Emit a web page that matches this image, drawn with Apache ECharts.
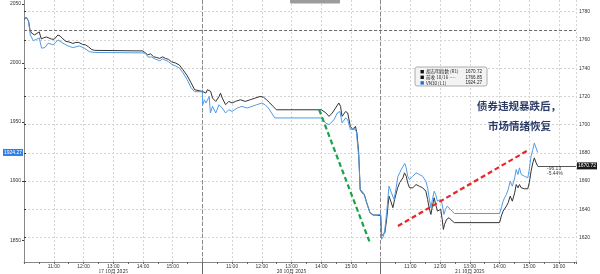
<!DOCTYPE html>
<html><head><meta charset="utf-8">
<script src="https://cdn.jsdelivr.net/npm/echarts@6/dist/echarts.min.js"></script>
<style>html,body{margin:0;padding:0;background:#fff}#c{width:600px;height:274px}</style>
</head><body><div id="c"></div>
<script>
// x = trading-session hours from 17 Oct 10:00 (HKT); each day spans 6 units (10:00-16:00)
const hourTicks = [1,2,3,4,5,7,8,9,10,11,13,14,15,16,17,18];
const hourTickLabels = ['11:00','12:00','13:00','14:00','15:00','11:00','12:00','13:00','14:00','15:00','11:00','12:00','13:00','14:00','15:00','16:00'];
const dayCenters = [3,9,15];
const dayLabels = ['17 10月 2025','20 10月 2025','21 10月 2025'];
const dayBreaks = [6,12];
const leftTicks = [1850,1900,1950,2000,2050];
const rightTicks = [1620,1640,1660,1680,1700,1720,1740,1760,1780];

const vniData = [
[0.00,1774.8],[0.02,1775.5],[0.08,1775.9],[0.15,1773.4],[0.20,1767.1],[0.25,1764.9],[0.35,1763.5],[0.41,1764.2],[0.51,1765.7],[0.58,1760.7],[0.65,1761.4],[0.75,1762.1],[0.81,1761.8],[0.91,1760.7],[1.01,1760.4],[1.14,1763.5],[1.21,1762.8],[1.31,1760.7],[1.41,1758.9],[1.51,1758.6],[1.64,1757.5],[1.74,1758.2],[1.84,1758.2],[1.97,1756.8],[2.07,1756.5],[2.17,1755.1],[2.27,1753.3],[2.37,1752.6],[4.00,1752.2],[4.06,1751.2],[4.16,1749.4],[4.26,1750.1],[4.36,1748.0],[4.46,1747.6],[4.56,1746.9],[4.66,1748.0],[4.76,1746.9],[4.86,1746.2],[4.96,1744.5],[5.09,1743.7],[5.22,1742.3],[5.35,1738.8],[5.49,1734.6],[5.62,1729.6],[5.74,1724.7],
[6.00,1723.5],[6.12,1722.3],[6.17,1724.7],[6.28,1723.5],[6.34,1718.8],[6.39,1719.9],[6.45,1716.4],[6.56,1719.9],[6.61,1722.3],[6.67,1718.8],[6.78,1714.1],[6.89,1716.4],[7.00,1715.3],[7.11,1716.4],[7.28,1717.6],[7.44,1716.4],[7.61,1717.6],[7.78,1718.8],[7.94,1719.9],[8.05,1719.5],[8.16,1717.6],[8.27,1715.3],[8.38,1712.9],[8.49,1710.5],[10.00,1710.5],[10.04,1709.3],[10.15,1708.4],[10.26,1705.8],[10.37,1708.2],[10.48,1711.7],[10.59,1715.3],[10.65,1712.9],[10.70,1705.8],[10.82,1709.3],[10.89,1708.2],[10.98,1698.7],[11.07,1696.4],[11.15,1698.7],[11.20,1694.1],[11.26,1680.0],[11.31,1654.0],[11.37,1651.7],[11.45,1650.5],[11.53,1644.6],[11.64,1637.5],[11.75,1636.0],
[12.00,1635.6],[12.03,1621.0],[12.09,1619.9],[12.14,1623.4],[12.20,1632.8],[12.25,1643.4],[12.28,1649.3],[12.34,1645.7],[12.41,1641.1],[12.47,1647.0],[12.57,1655.2],[12.64,1658.9],[12.69,1659.9],[12.75,1662.3],[12.80,1665.8],[12.86,1663.4],[12.91,1658.7],[12.97,1655.2],[13.02,1654.0],[13.08,1655.2],[13.14,1656.3],[13.19,1657.5],[13.30,1656.3],[13.41,1655.2],[13.52,1652.8],[13.58,1646.9],[13.63,1641.1],[13.69,1636.3],[13.74,1642.2],[13.80,1648.1],[13.85,1643.4],[13.91,1638.7],[13.97,1637.5],[14.02,1639.9],[14.07,1632.8],[14.11,1625.7],[14.15,1629.3],[14.22,1632.8],[14.30,1634.0],[14.41,1631.6],[14.48,1630.5],[16.00,1630.5],[16.06,1635.1],[16.12,1638.7],[16.17,1639.9],[16.23,1642.2],[16.29,1644.6],[16.36,1649.3],[16.43,1645.7],[16.51,1651.7],[16.56,1657.5],[16.62,1655.2],[16.67,1657.5],[16.73,1655.2],[16.84,1654.5],[16.95,1654.5],[17.00,1658.7],[17.06,1666.9],[17.12,1672.9],[17.17,1676.4],[17.23,1672.9],[17.28,1670.72]
];

const vn30Data = [
[0.00,2038.2],[0.02,2038.2],[0.08,2038.6],[0.15,2035.6],[0.21,2023.8],[0.31,2019.0],[0.41,2020.0],[0.51,2021.3],[0.59,2012.6],[0.70,2013.1],[0.81,2016.8],[0.98,2015.4],[1.14,2019.6],[1.31,2016.8],[1.48,2014.5],[1.64,2013.1],[1.86,2014.5],[2.03,2012.6],[2.19,2009.7],[2.36,2009.0],[4.00,2008.6],[4.07,2008.4],[4.18,2005.0],[4.29,2005.2],[4.40,2003.5],[4.57,2001.9],[4.66,2003.5],[4.85,2001.3],[4.96,1999.1],[5.09,1997.6],[5.22,1995.9],[5.35,1991.7],[5.49,1985.8],[5.62,1979.1],[5.74,1975.7],
[6.00,1975.7],[6.01,1964.7],[6.07,1968.9],[6.12,1966.1],[6.23,1971.7],[6.27,1957.7],[6.34,1963.3],[6.45,1957.7],[6.56,1964.7],[6.67,1961.9],[6.78,1957.7],[6.89,1960.5],[7.00,1959.0],[7.17,1961.9],[7.33,1963.3],[7.50,1961.9],[7.67,1963.3],[7.83,1964.7],[8.00,1966.1],[8.11,1964.7],[8.22,1961.9],[8.33,1957.7],[8.44,1953.5],[10.00,1953.5],[10.04,1952.0],[10.15,1949.2],[10.26,1947.8],[10.43,1952.0],[10.54,1957.7],[10.63,1959.0],[10.70,1949.2],[10.82,1953.5],[10.89,1952.0],[10.98,1943.6],[11.09,1945.0],[11.18,1942.1],[11.26,1921.0],[11.31,1892.9],[11.42,1890.1],[11.53,1881.7],[11.64,1873.2],[11.75,1870.9],
[12.00,1871.8],[12.03,1850.7],[12.09,1853.0],[12.14,1859.1],[12.20,1873.2],[12.25,1887.2],[12.28,1895.7],[12.34,1891.5],[12.38,1892.9],[12.45,1884.5],[12.53,1895.7],[12.58,1904.1],[12.64,1907.0],[12.69,1909.8],[12.75,1912.6],[12.81,1914.9],[12.86,1911.2],[12.91,1904.1],[12.97,1901.3],[13.02,1899.9],[13.08,1904.1],[13.14,1905.6],[13.19,1907.0],[13.30,1905.6],[13.41,1904.1],[13.52,1899.9],[13.58,1894.3],[13.63,1885.9],[13.69,1877.4],[13.74,1884.5],[13.80,1891.5],[13.85,1888.7],[13.91,1883.0],[13.97,1881.7],[14.02,1884.5],[14.07,1880.2],[14.13,1871.8],[14.18,1876.0],[14.24,1878.8],[14.35,1876.0],[14.48,1872.6],[16.00,1872.6],[16.06,1877.4],[16.12,1883.0],[16.17,1885.9],[16.23,1888.7],[16.29,1892.9],[16.36,1899.9],[16.43,1895.7],[16.51,1902.8],[16.56,1909.8],[16.62,1905.6],[16.67,1911.2],[16.73,1905.6],[16.84,1904.1],[16.95,1902.8],[17.00,1909.8],[17.06,1921.0],[17.12,1926.7],[17.17,1932.3],[17.23,1928.1],[17.28,1924.27]
];

const prevClose = 1766.85;
const lastVni = 1670.72;
const lastVn30 = 1924.27;
const changeText = ['-96.13', '-5.44%'];
const legendRows = [
  {name:'胡志明指数 (R1)', value:'1670.72', color:'#111'},
  {name:'前收 10/16 ----', value:'1766.85', color:'#111'},
  {name:'VN30 (L1)', value:'1924.27', color:'#1f6fe0'}
];
const greenArrow = [[9.93,1710.5],[11.62,1617.2]];
const redArrow = [[12.58,1628.1],[17.0,1682.3]];

const X_MIN = 0, X_MAX = 18.57;
const LEFT_MIN = 1831.5, LEFT_MAX = 2053.4;
const RIGHT_MIN = 1602.6, RIGHT_MAX = 1788.3;
const numFont = '"Liberation Sans", Arial, sans-serif';
const labCol = '#333';
const plain = (v) => String(v);

const chart = echarts.init(document.getElementById('c'), null, {renderer:'canvas'});

const legendGraphics = [{
  type:'rect', shape:{x:415, y:67, width:72, height:19, r:2},
  style:{fill:'#f3f3f3', stroke:'#9a9a9a', lineWidth:0.8}, z:100
}];
legendRows.forEach((r, i) => {
  const cy = 71.7 + i * 5.6;
  legendGraphics.push({type:'rect', shape:{x:420.5, y:cy-1.7, width:3.4, height:3.4}, style:{fill:r.color}, z:101});
  legendGraphics.push({type:'text', style:{x:426, y:cy, text:r.name, font:'4.6px "Noto Sans CJK SC", sans-serif', fill:'#222', verticalAlign:'middle'}, z:101});
  legendGraphics.push({type:'text', style:{x:482, y:cy, text:r.value, font:'4.6px ' + numFont, fill:'#222', align:'right', verticalAlign:'middle'}, z:101});
});

chart.setOption({
  animation:false,
  backgroundColor:'#fff',
  grid:{left:20, right:20, top:0, bottom:11.3, containLabel:false},
  xAxis:[{
    type:'value', min:X_MIN, max:X_MAX, interval:1,
    axisLine:{show:true, onZero:false, lineStyle:{color:'#888', width:1}},
    axisTick:{show:true, length:2, lineStyle:{color:'#666'}},
    minorTick:{show:true, splitNumber:2, length:2, lineStyle:{color:'#666'}},
    axisLabel:{show:true, margin:2, fontSize:5, color:labCol, fontFamily:numFont,
      formatter:(v)=>{ const r=Math.round(v); if (Math.abs(v-r)>1e-6) return ''; const i=hourTicks.indexOf(r); return i>=0?hourTickLabels[i]:''; }},
    splitLine:{show:true, lineStyle:{color:'#d4d4d4', type:[2,2], width:1}}
  },{
    type:'value', min:X_MIN, max:X_MAX, position:'bottom',
    axisLine:{show:false},
    axisTick:{show:true, customValues:dayBreaks, length:12, lineStyle:{color:'#666', width:1}},
    axisLabel:{show:true, customValues:dayCenters, margin:7, fontSize:5, color:labCol, fontFamily:'"Noto Sans CJK SC", ' + numFont,
      formatter:(v)=>{ const i=dayCenters.indexOf(Math.round(v)); return i>=0?dayLabels[i]:''; }},
    splitLine:{show:true, lineStyle:{color:'#8a8a8a', type:[4,2], width:1}}
  }],
  yAxis:[{
    type:'value', position:'left', min:LEFT_MIN, max:LEFT_MAX,
    axisLine:{show:true, lineStyle:{color:'#888'}},
    axisTick:{show:true, customValues:leftTicks, length:2, lineStyle:{color:'#333'}},
    axisLabel:{show:true, customValues:leftTicks, margin:3, fontSize:5, color:labCol, fontFamily:numFont, formatter:plain},
    splitLine:{show:false}
  },{
    type:'value', position:'right', min:RIGHT_MIN, max:RIGHT_MAX,
    axisLine:{show:true, lineStyle:{color:'#888'}},
    axisTick:{show:true, customValues:rightTicks, length:2, lineStyle:{color:'#333'}},
    axisLabel:{show:true, customValues:rightTicks, margin:3, fontSize:5, color:labCol, fontFamily:numFont, formatter:plain},
    splitLine:{show:true, lineStyle:{color:'#d4d4d4', type:[2,2], width:1}}
  },{
    type:'value', position:'left', min:LEFT_MIN, max:LEFT_MAX,
    axisLine:{show:false}, axisTick:{show:false}, splitLine:{show:false},
    axisLabel:{show:true, customValues:[lastVn30], margin:1, fontSize:5, color:'#fff', fontFamily:numFont,
      backgroundColor:'#2f7fe6', padding:[1,1,1,1], formatter:(v)=>v.toFixed(2)}
  },{
    type:'value', position:'right', min:RIGHT_MIN, max:RIGHT_MAX,
    axisLine:{show:false}, axisTick:{show:false}, splitLine:{show:false},
    axisLabel:{show:true, customValues:[lastVni], margin:1, fontSize:5, color:'#fff', fontFamily:numFont,
      backgroundColor:'#1a1a1a', padding:[1,1,1,1], formatter:(v)=>v.toFixed(2)}
  }],
  series:[{
    name:'胡志明指数', type:'line', xAxisIndex:0, yAxisIndex:1, data:vniData,
    showSymbol:false, symbol:'none', lineStyle:{color:'#333', width:1}, z:3,
    markLine:{silent:true, symbol:'none', animation:false, label:{show:false},
      data:[
        {yAxis:prevClose, lineStyle:{color:'#6a6a6a', type:[3,2], width:1}},
        [{coord:[vniData[vniData.length-1][0], lastVni], lineStyle:{color:'#555', type:'solid', width:1}}, {coord:[X_MAX, lastVni]}]
      ]}
  },{
    name:'VN30', type:'line', xAxisIndex:0, yAxisIndex:0, data:vn30Data,
    showSymbol:false, symbol:'none', lineStyle:{color:'#4f9ce8', width:1}, z:4
  },{
    name:'arrows', type:'line', xAxisIndex:0, yAxisIndex:1, data:[], z:6,
    markLine:{silent:true, symbol:['none','arrow'], symbolSize:[0,9], animation:false, label:{show:false},
      data:[
        [{coord:greenArrow[0], lineStyle:{color:'#16a34a', type:[5,3], width:2.2}}, {coord:greenArrow[1]}],
        [{coord:redArrow[0], lineStyle:{color:'#e8262a', type:[5,3], width:2.2}}, {coord:redArrow[1]}]
      ]}
  }],
  graphic:[
    {type:'rect', z:100, shape:{x:290, y:-2, width:50, height:5.5, r:1}, style:{fill:'#9c9c9c'}},
    ...legendGraphics,
    {type:'text', z:100, style:{x:477, y:106, text:'债券违规暴跌后，', font:'bold 10.5px "Noto Sans CJK SC", sans-serif', fill:'#2b3b66', verticalAlign:'middle'}},
    {type:'text', z:100, style:{x:488, y:126, text:'市场情绪恢复', font:'bold 10.5px "Noto Sans CJK SC", sans-serif', fill:'#2b3b66', verticalAlign:'middle'}},
    {type:'text', z:100, style:{x:547, y:168.3, text:changeText[0], font:'5px ' + numFont, fill:'#444', verticalAlign:'middle'}},
    {type:'text', z:100, style:{x:547, y:174, text:changeText[1], font:'5px ' + numFont, fill:'#444', verticalAlign:'middle'}}
  ]
});
</script></body></html>
